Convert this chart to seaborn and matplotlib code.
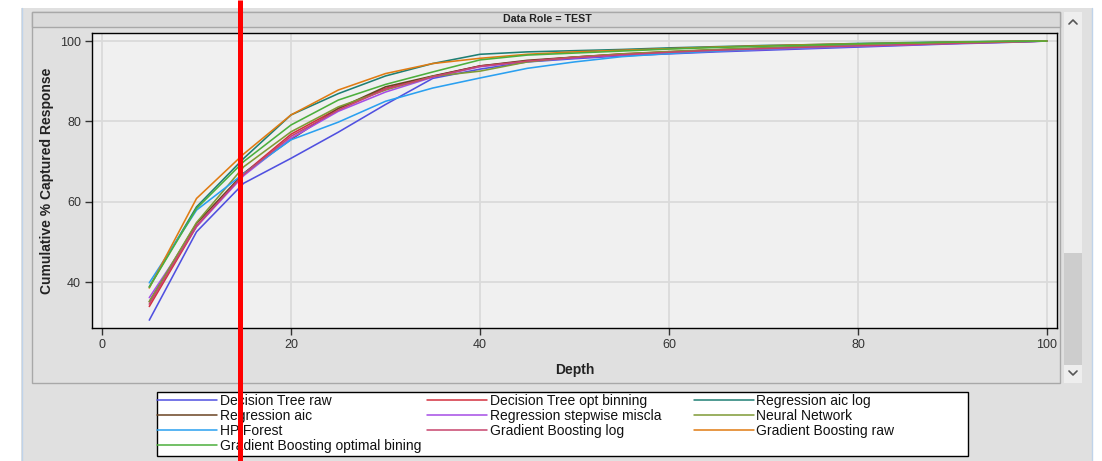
import numpy as np
import pandas as pd
import matplotlib
matplotlib.use("Agg")
import matplotlib.pyplot as plt
import matplotlib.transforms as mtransforms
from matplotlib.lines import Line2D
from matplotlib.patches import Rectangle
import seaborn as sns

# ---------------- data ----------------
depth = [5, 10, 15, 20, 25, 30, 35, 40, 45, 50, 55, 60, 65, 70, 75, 80, 85, 90, 95, 100]

dt_raw      = [30.5, 52.5, 64.6, 70.8, 77.3, 84.2, 90.7, 93.0, 94.8, 95.6, 96.3, 96.8, 97.3, 97.7, 98.1, 98.5, 98.9, 99.3, 99.6, 100]
dt_opt      = [33.9, 53.8, 67.0, 76.8, 83.2, 88.2, 91.2, 93.8, 95.0, 96.0, 96.8, 97.3, 97.8, 98.2, 98.6, 98.9, 99.2, 99.5, 99.8, 100]
reg_aic_log = [38.8, 58.7, 70.8, 81.6, 86.9, 91.3, 94.4, 96.7, 97.3, 97.6, 97.9, 98.3, 98.6, 98.9, 99.1, 99.4, 99.6, 99.8, 99.9, 100]
reg_aic     = [35.1, 54.6, 67.1, 75.5, 83.2, 88.6, 91.3, 93.8, 95.2, 96.0, 96.7, 97.3, 97.8, 98.2, 98.6, 98.9, 99.2, 99.5, 99.8, 100]
reg_step    = [36.1, 53.8, 66.5, 75.8, 82.5, 87.3, 91.0, 93.6, 94.9, 95.8, 96.5, 97.0, 97.5, 97.9, 98.3, 98.7, 99.0, 99.4, 99.7, 100]
neural_net  = [35.1, 54.8, 68.7, 77.4, 83.6, 87.8, 91.2, 92.5, 94.8, 96.0, 96.8, 97.4, 97.9, 98.3, 98.7, 99.0, 99.3, 99.6, 99.8, 100]
hp_forest   = [39.8, 57.9, 67.0, 75.4, 79.8, 85.0, 88.3, 90.8, 93.2, 94.8, 96.1, 96.9, 97.5, 98.0, 98.4, 98.8, 99.2, 99.5, 99.8, 100]
gb_log      = [34.5, 54.0, 66.8, 76.3, 82.8, 88.0, 91.1, 93.7, 95.0, 95.9, 96.6, 97.2, 97.7, 98.1, 98.5, 98.8, 99.1, 99.4, 99.7, 100]
gb_raw      = [38.5, 60.8, 71.9, 81.6, 87.8, 91.9, 94.4, 95.7, 96.7, 97.3, 97.7, 98.1, 98.5, 98.8, 99.1, 99.3, 99.5, 99.7, 99.9, 100]
gb_optimal  = [38.7, 58.3, 70.0, 79.1, 85.3, 89.2, 92.3, 95.3, 96.5, 97.0, 97.5, 98.0, 98.4, 98.7, 99.0, 99.3, 99.5, 99.7, 99.9, 100]

models = ["Decision Tree raw", "Decision Tree opt binning", "Regression aic log",
          "Regression aic", "Regression stepwise miscla", "Neural Network",
          "HP Forest", "Gradient Boosting log", "Gradient Boosting raw",
          "Gradient Boosting optimal bining"]
series = [dt_raw, dt_opt, reg_aic_log, reg_aic, reg_step, neural_net,
          hp_forest, gb_log, gb_raw, gb_optimal]
colors = ["#5050E0", "#D3303E", "#1E7F74", "#6B4423", "#A64DE6", "#7F9A35",
          "#2AA0F0", "#C8456E", "#E07B12", "#4CAF3C"]

x_ticks = [0, 20, 40, 60, 80, 100]
y_ticks = [40, 60, 80, 100]
marker_depth = 14.6   # red vertical annotation line

df = pd.concat([pd.DataFrame({"Depth": depth, "Captured": s, "Model": m})
                for m, s in zip(models, series)], ignore_index=True)

# ---------------- style ----------------
sns.set_theme(style="white")
plt.rcParams["font.family"] = ["Liberation Sans", "DejaVu Sans"]

W, H = 1102, 461
fig = plt.figure(figsize=(W / 100, H / 100), dpi=100)
fig.patch.set_facecolor("white")

def fx(px):
    return px / W

def fy(py):
    return 1 - py / H

# background panels
fig.add_artist(Rectangle((fx(21), 0), fx(1092 - 21), fy(8), transform=fig.transFigure,
                         facecolor="#E0E0E0", edgecolor="none", zorder=0))
fig.add_artist(Line2D([fx(21.5)] * 2, [0, fy(8)], transform=fig.transFigure,
                      color="#BFD3EA", lw=1, zorder=1))
fig.add_artist(Line2D([fx(1091.5)] * 2, [0, fy(8)], transform=fig.transFigure,
                      color="#BFD3EA", lw=1, zorder=1))
# inner frame
fig.add_artist(Rectangle((fx(32), fy(383)), fx(1060 - 32), fy(12) - fy(383),
                         transform=fig.transFigure, facecolor="#E0E0E0",
                         edgecolor="#A8A8A8", lw=1, zorder=1))
# header strip
fig.add_artist(Rectangle((fx(32), fy(27)), fx(1060 - 32), fy(12) - fy(27),
                         transform=fig.transFigure, facecolor="#DADADA",
                         edgecolor="#A8A8A8", lw=1, zorder=2))
fig.text(fx(547), fy(19.5), "Data Role = TEST", ha="center", va="center",
         fontsize=7.7, fontweight="bold", color="#222222", zorder=3)

# scrollbar
fig.add_artist(Rectangle((fx(1064), fy(383)), fx(18), fy(12) - fy(383),
                         transform=fig.transFigure, facecolor="#EEEEEE",
                         edgecolor="none", zorder=1))
fig.add_artist(Rectangle((fx(1064), fy(365)), fx(18), fy(253) - fy(365),
                         transform=fig.transFigure, facecolor="#CDCDCD",
                         edgecolor="none", zorder=2))
fig.add_artist(Line2D([fx(1069), fx(1073), fx(1077)], [fy(24), fy(20), fy(24)],
                      transform=fig.transFigure, color="#555555", lw=1.2, zorder=3))
fig.add_artist(Line2D([fx(1069), fx(1073), fx(1077)], [fy(371), fy(375), fy(371)],
                      transform=fig.transFigure, color="#555555", lw=1.2, zorder=3))

# ---------------- axes ----------------
ax = fig.add_axes([fx(92), fy(328), fx(1057 - 92), fy(33) - fy(328)])
ax.set_facecolor("#F0F0F0")
ax.set_zorder(4)

sns.lineplot(data=df, x="Depth", y="Captured", hue="Model", hue_order=models,
             palette=dict(zip(models, colors)), linewidth=1.15, legend=False,
             ax=ax, zorder=3)

ax.set_xlim(-1.06, 101.06)
ax.set_ylim(28.55, 102.0)
ax.set_xticks(x_ticks)
ax.set_yticks(y_ticks)
ax.grid(True, color="#DADADA", linewidth=1.3, zorder=0)
ax.set_axisbelow(True)
for sp in ax.spines.values():
    sp.set_color("#000000")
    sp.set_linewidth(1.0)
ax.tick_params(axis="both", which="major", direction="out", length=5, width=1,
               color="#333333", labelsize=9, labelcolor="#333333", pad=3,
               bottom=True, left=True)
ax.set_xlabel("Depth", fontsize=10, fontweight="bold", color="#222222", labelpad=8.5)
ax.set_ylabel("Cumulative % Captured Response", fontsize=10, fontweight="bold",
              color="#222222", labelpad=4)

# ---------------- legend ----------------
fig.add_artist(Rectangle((fx(157), fy(456)), fx(968 - 157), fy(392) - fy(456),
                         transform=fig.transFigure, facecolor="white",
                         edgecolor="#000000", lw=1, zorder=5))
handles = [Line2D([], [], color=c, lw=1.1) for c in colors]
col_groups = [[0, 3, 6, 9], [1, 4, 7], [2, 5, 8]]
col_x = [157, 427, 694]
for grp, cx in zip(col_groups, col_x):
    leg = fig.legend([handles[i] for i in grp], [models[i] for i in grp],
                     loc="upper left", bbox_to_anchor=(fx(cx), fy(394)),
                     frameon=False, fontsize=10, handlelength=4.3,
                     handletextpad=0.2, labelspacing=0.08, borderpad=0.0,
                     borderaxespad=0.0)
    leg.set_zorder(6)
    for t in leg.get_texts():
        t.set_color("#111111")

# red annotation line across the whole image
trans = mtransforms.blended_transform_factory(ax.transData, fig.transFigure)
fig.add_artist(Line2D([marker_depth, marker_depth], [0, 1], transform=trans,
                      color="#FF0000", lw=3.6, zorder=10, solid_capstyle="butt"))

fig.savefig("out.png", dpi=100)
